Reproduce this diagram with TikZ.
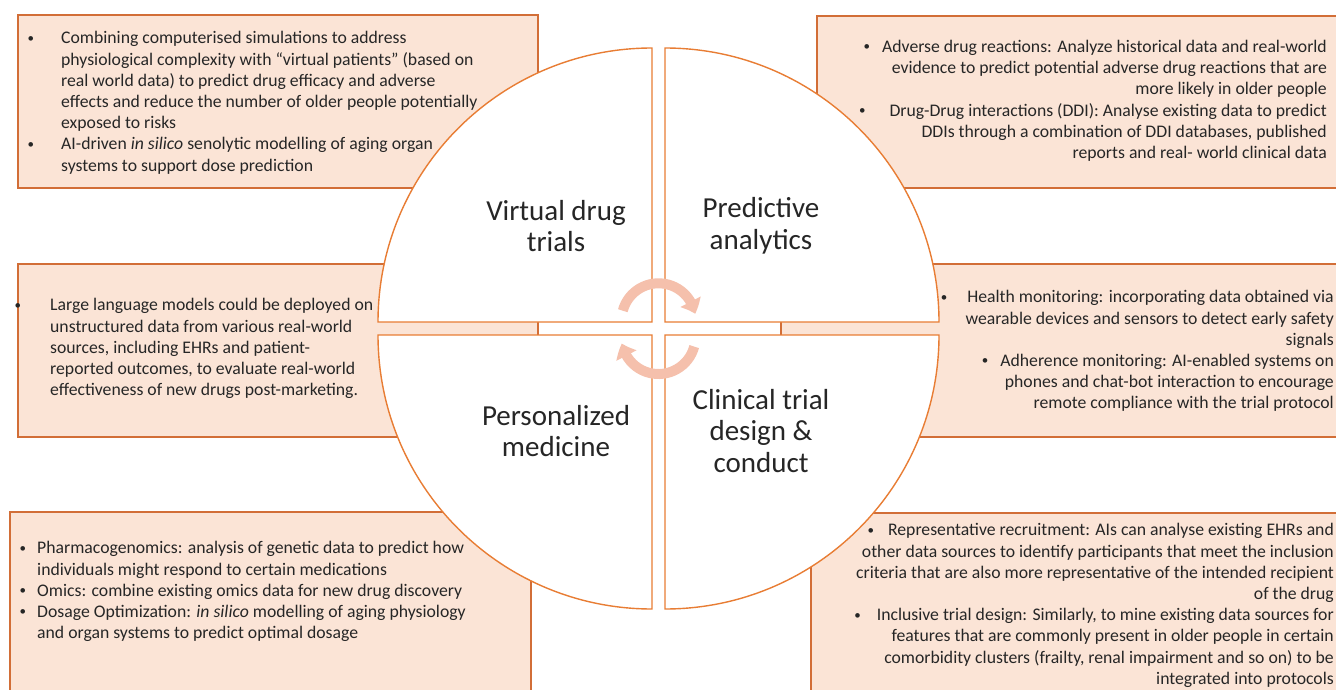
\documentclass[tikz,border=0pt]{standalone}
\usepackage{fontspec}
\setmainfont{Carlito}
\usetikzlibrary{arrows.meta,bending}

\definecolor{boxfill}{RGB}{251,228,214}
\definecolor{boxline}{RGB}{210,110,55}
\definecolor{quadline}{RGB}{232,125,52}
\definecolor{cycarrow}{RGB}{245,192,172}
\definecolor{txtgray}{RGB}{38,38,38}

% small list bullet, and a hanging one for left-aligned lists
\newcommand\dotmark{\raisebox{1.6pt}{\fontsize{13}{13}\selectfont\textbullet}}
\newcommand\bul[1]{\llap{\dotmark\hspace{#1}}}

\begin{document}
\begin{tikzpicture}[x=1pt, y=-1pt,
    box/.style={draw=boxline, fill=boxfill, line width=1.6pt, anchor=north west},
    quad/.style={draw=quadline, fill=white, line width=1.4pt},
    info/.style={inner sep=0pt, text=txtgray, font=\fontsize{17.7}{21.2}\selectfont},
    quadtitle/.style={inner sep=0pt, align=center, text=txtgray, font=\fontsize{29}{31.5}\selectfont},
    cyc/.style={draw=cycarrow, line width=10pt, -{Triangle[width=22pt,length=13pt,bend]}}]
\useasboundingbox (0,0) rectangle (1336,690);

% text boxes behind the circle
\node[box, minimum width=520pt, minimum height=173pt] (vdtbox) at (17,14) {};
\node[box, minimum width=530pt, minimum height=172pt] (pabox) at (816,15) {};
\node[box, minimum width=520pt, minimum height=173pt] (llmbox) at (17,263) {};
\node[box, minimum width=566pt, minimum height=173pt] (monbox) at (780,263) {};
\node[box, minimum width=521pt, minimum height=200pt] (pmbox) at (9,511) {};
\node[box, minimum width=536pt, minimum height=200pt] (ctbox) at (810,512) {};

% four quadrants
\draw[quad] (652,322) -- (652,48) arc[start angle=270, end angle=180, radius=274] -- cycle;
\draw[quad] (665,322) -- (665,48) arc[start angle=270, end angle=360, radius=274] -- cycle;
\draw[quad] (652,335) -- (652,609) arc[start angle=90, end angle=180, radius=274] -- cycle;
\draw[quad] (665,335) -- (665,609) arc[start angle=90, end angle=0, radius=274] -- cycle;

\node[quadtitle] (vdt) at (556,226) {Virtual drug\\trials};
\node[quadtitle] (pa) at (761,226) {Predictive\\analytics};
\node[quadtitle] (pm) at (556,431) {Personalized\\medicine};
\node[quadtitle] (ct) at (761,431) {Clinical trial\\design \&\\conduct};

% cycle arrows in the middle
\draw[cyc] (622.8,310.7) arc[start angle=195, end angle=350, radius=37];
\draw[cyc] (694.2,346.6) arc[start angle=15, end angle=170, radius=37];

% box texts
\node[info, align=left, anchor=north west] (vdttext) at (61,31.5) {%
  \bul{27pt}Combining computerised simulations to address\\
  physiological complexity with “virtual patients” (based on\\
  real world data) to predict drug efficacy and adverse\\
  effects and reduce the number of older people potentially\\
  exposed to risks\\
  \bul{27pt}AI-driven \textit{in silico} senolytic modelling of aging organ\\
  systems to support dose prediction};
\node[info, align=right, anchor=north east] (patext) at (1327,40) {%
  \dotmark\hspace{12pt}Adverse drug reactions: Analyze historical data and real-world\\
  evidence to predict potential adverse drug reactions that are\\
  more likely in older people\\
  \dotmark\hspace{24pt}Drug-Drug interactions (DDI): Analyse existing data to predict\\
  DDIs through a combination of DDI databases, published\\
  reports and real- world clinical data};
\node[info, align=left, anchor=north west] (llmtext) at (50,298.5) {%
  \bul{29pt}Large language models could be deployed on\\
  unstructured data from various real-world\\
  sources, including EHRs and patient-\\
  reported outcomes, to evaluate real-world\\
  effectiveness of new drugs post-marketing.};
\node[info, align=right, anchor=north east] (montext) at (1334,290.5) {%
  \dotmark\hspace{20pt}Health monitoring: incorporating data obtained via\\
  wearable devices and sensors to detect early safety\\
  signals\\
  \dotmark\hspace{12pt}Adherence monitoring: AI-enabled systems on\\
  phones and chat-bot interaction to encourage\\
  remote compliance with the trial protocol};
\node[info, align=left, anchor=north west] (pmtext) at (37,541.5) {%
  \bul{11pt}Pharmacogenomics: analysis of genetic data to predict how\\
  individuals might respond to certain medications\\
  \bul{11pt}Omics: combine existing omics data for new drug discovery\\
  \bul{11pt}Dosage Optimization: \textit{in silico} modelling of aging physiology\\
  and organ systems to predict optimal dosage};
\node[info, align=right, anchor=north east] (cttext) at (1334,523.5) {%
  \dotmark\hspace{14pt}Representative recruitment: AIs can analyse existing EHRs and\\
  other data sources to identify participants that meet the inclusion\\
  criteria that are also more representative of the intended recipient\\
  of the drug\\
  \dotmark\hspace{16pt}Inclusive trial design: Similarly, to mine existing data sources for\\
  features that are commonly present in older people in certain\\
  comorbidity clusters (frailty, renal impairment and so on) to be\\
  integrated into protocols};
\end{tikzpicture}
\end{document}
